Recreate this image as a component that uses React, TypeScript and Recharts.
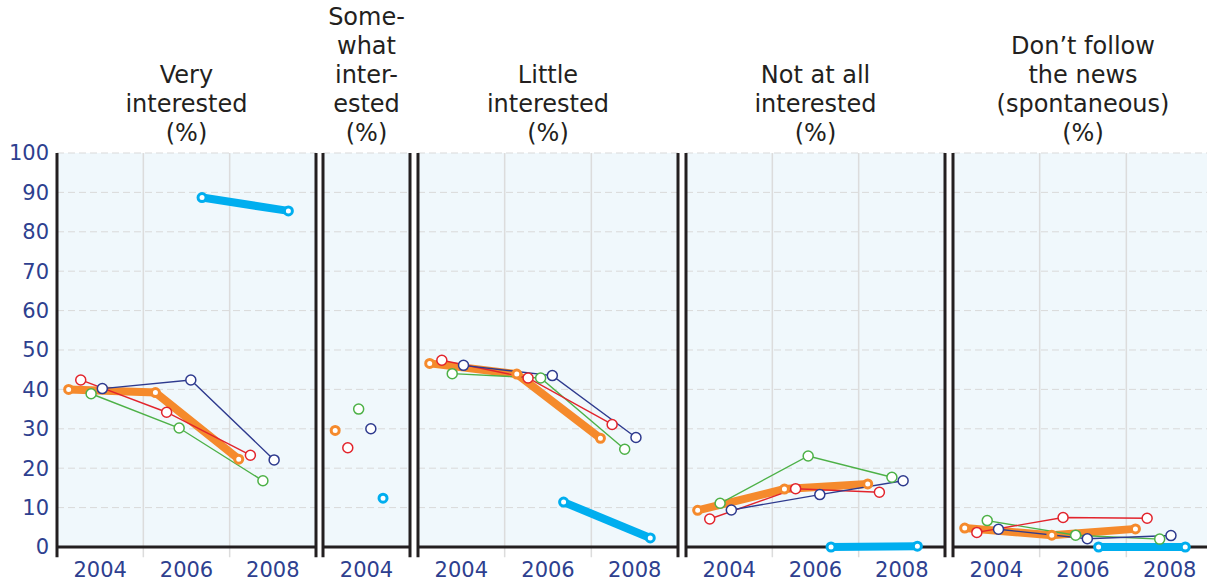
import { LineChart, Line, XAxis, YAxis, CartesianGrid, ReferenceLine } from 'recharts'

// tick labels
const yTicks = [0, 10, 20, 30, 40, 50, 60, 70, 80, 90, 100]
const wideTicks = [2004, 2006, 2008]
const narrowTicks = [2004]

const titles = [
  ['Very', 'interested', '(%)'],
  ['Some-', 'what', 'inter-', 'ested', '(%)'],
  ['Little', 'interested', '(%)'],
  ['Not at all', 'interested', '(%)'],
  ['Don\u2019t follow', 'the news', '(spontaneous)', '(%)'],
]

// survey dates of each series (x positions)
const orangeYears = [2003.27, 2005.28, 2007.21]
const redYears = [2003.55, 2005.54, 2007.48]
const greenYears = [2003.79, 2005.83, 2007.77]
const navyYears = [2004.05, 2006.1, 2008.03]
const cyanYears = [2006.36, 2008.36]
// the narrow panel only has one wave: orange, red, green, navy, cyan
const somewhatYears = [2003.28, 2003.57, 2003.82, 2004.1, 2004.38]

// values (%)
const veryInterested = {
  orange: [40, 39.2, 22.3],
  red: [42.4, 34.2, 23.3],
  green: [38.9, 30.2, 16.8],
  navy: [40.2, 42.4, 22.1],
  cyan: [88.7, 85.3],
}
const somewhatInterested = {
  orange: [29.6],
  red: [25.2],
  green: [35],
  navy: [30],
  cyan: [12.4],
}
const littleInterested = {
  orange: [46.6, 43.9, 27.6],
  red: [47.4, 42.9, 31.1],
  green: [44, 42.9, 24.8],
  navy: [46.1, 43.5, 27.8],
  cyan: [11.4, 2.3],
}
const notInterested = {
  orange: [9.3, 14.7, 16],
  red: [7.1, 14.8, 13.9],
  green: [11.1, 23.1, 17.7],
  navy: [9.4, 13.3, 16.8],
  cyan: [0, 0.2],
}
const dontFollow = {
  orange: [4.8, 3.0, 4.6],
  red: [3.7, 7.5, 7.3],
  green: [6.7, 3.0, 2.0],
  navy: [4.5, 2.1, 2.9],
  cyan: [0, 0],
}

type Values = { orange: number[]; red: number[]; green: number[]; navy: number[]; cyan: number[] }
type Key = keyof Values

const colors: Record<Key, string> = {
  orange: '#F58A2C',
  red: '#E2242C',
  green: '#4DB147',
  navy: '#2E3A8E',
  cyan: '#00AEEF',
}
const thick: Record<Key, boolean> = { orange: true, red: false, green: false, navy: false, cyan: true }
const drawOrder: Key[] = ['cyan', 'orange', 'green', 'red', 'navy']
const wideYears: Record<Key, number[]> = {
  orange: orangeYears,
  red: redYears,
  green: greenYears,
  navy: navyYears,
  cyan: cyanYears,
}
const narrowYears: Record<Key, number[]> = {
  orange: [somewhatYears[0]],
  red: [somewhatYears[1]],
  green: [somewhatYears[2]],
  navy: [somewhatYears[3]],
  cyan: [somewhatYears[4]],
}

const panels = [
  { values: veryInterested, years: wideYears, left: 57, width: 259, narrow: false },
  { values: somewhatInterested, years: narrowYears, left: 323, width: 87, narrow: true },
  { values: littleInterested, years: wideYears, left: 418, width: 260, narrow: false },
  { values: notInterested, years: wideYears, left: 686, width: 259, narrow: false },
  { values: dontFollow, years: wideYears, left: 953, width: 260, narrow: false },
]

const FONT = '"DejaVu Sans", Verdana, sans-serif'
const NAVY_TEXT = '#2E3F8F'
const FRAME = '#231F20'
const PAD = 6
const Y_AXIS_W = 51

function Panel({ idx }: { idx: number }) {
  const p = panels[idx]
  const first = idx === 0
  const domain: [number, number] = p.narrow ? [2003, 2005] : [2003, 2009]
  const grid = p.narrow ? [] : [2005, 2007]
  const chartLeft = first ? p.left - PAD - Y_AXIS_W : p.left - PAD
  const chartWidth = p.width + PAD * 2 + (first ? Y_AXIS_W : 0)

  return (
    <div style={{ position: 'absolute', left: chartLeft, top: 0 }}>
      <LineChart width={chartWidth} height={585} margin={{ top: 153, right: PAD, bottom: 0, left: PAD }}>
        <CartesianGrid
          vertical={false}
          stroke="#D9D9D9"
          strokeDasharray="7 4"
          fill="#F0F8FC"
          fillOpacity={1}
        />
        <XAxis
          type="number"
          dataKey="x"
          domain={domain}
          allowDataOverflow
          ticks={p.narrow ? narrowTicks : wideTicks}
          interval={0}
          height={38}
          tickLine={false}
          tickSize={6}
          tickMargin={9}
          axisLine={false}
          tick={{ fill: NAVY_TEXT, fontSize: 21, fontFamily: FONT }}
        />
        <YAxis
          type="number"
          domain={[0, 100]}
          ticks={yTicks}
          interval={0}
          hide={!first}
          width={Y_AXIS_W}
          axisLine={false}
          tickLine={false}
          tickSize={6}
          tickMargin={2}
          tick={{ fill: NAVY_TEXT, fontSize: 21, fontFamily: FONT }}
        />
        {grid.map((g) => (
          <ReferenceLine
            key={g}
            segment={[
              { x: g, y: -2.6 },
              { x: g, y: 100 },
            ]}
            stroke="#DCDCDC"
            strokeWidth={1.5}
            ifOverflow="visible"
          />
        ))}
        <ReferenceLine
          segment={[
            { x: domain[0], y: 0 },
            { x: domain[1], y: 0 },
          ]}
          stroke={FRAME}
          strokeWidth={3}
          ifOverflow="visible"
        />
        {[domain[0], domain[1]].map((b) => (
          <ReferenceLine
            key={b}
            segment={[
              { x: b, y: -2.6 },
              { x: b, y: 100 },
            ]}
            stroke={FRAME}
            strokeWidth={3}
            ifOverflow="visible"
          />
        ))}
        {drawOrder.map((k) => {
          const vals = p.values[k]
          const data = p.years[k].map((x, i) => ({ x, v: vals[i] }))
          const w = thick[k]
          return (
            <Line
              key={k}
              data={data}
              dataKey="v"
              type="linear"
              stroke={colors[k]}
              strokeWidth={w ? 8 : 1.4}
              dot={{ r: w ? 4 : 5, fill: '#fff', stroke: colors[k], strokeWidth: w ? 3 : 1.5 }}
              activeDot={false}
              isAnimationActive={false}
            />
          )
        })}
      </LineChart>
      <div
        style={{
          position: 'absolute',
          left: first ? Y_AXIS_W : 0,
          width: p.width + PAD * 2,
          top: 147.5 - titles[idx].length * 29,
          lineHeight: '29px',
          fontSize: 24,
          fontFamily: FONT,
          color: FRAME,
          textAlign: 'center',
          whiteSpace: 'nowrap',
        }}
      >
        {titles[idx].map((t) => (
          <div key={t}>{t}</div>
        ))}
      </div>
    </div>
  )
}

export default function App() {
  return (
    <div
      style={{
        position: 'absolute',
        left: 0,
        top: 0,
        width: 1207,
        height: 585,
        overflow: 'hidden',
        background: '#fff',
      }}
    >
      {panels.map((_, i) => (
        <Panel key={i} idx={i} />
      ))}
    </div>
  )
}
